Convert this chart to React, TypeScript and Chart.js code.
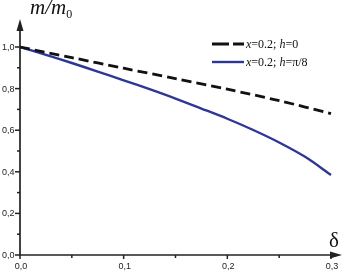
import React, { useEffect, useRef } from "react";
import { Chart, registerables } from "chart.js";

Chart.register(...registerables);

const deltaH0 = [0, 0.05, 0.1, 0.15, 0.2, 0.25, 0.3];
const ratioH0 = [1.0, 0.949, 0.898, 0.848, 0.797, 0.742, 0.68];

const deltaHpi8 = [0, 0.025, 0.05, 0.075, 0.1, 0.125, 0.15, 0.175, 0.2, 0.225, 0.25, 0.275, 0.3];
const ratioHpi8 = [1.0, 0.962, 0.923, 0.882, 0.84, 0.797, 0.752, 0.704, 0.655, 0.601, 0.541, 0.472, 0.385];

const xMajorTicks = [0, 0.1, 0.2, 0.3];
const xMinorTicks = [0.05, 0.15, 0.25];
const yMajorTicks = [0, 0.2, 0.4, 0.6, 0.8, 1.0];
const yMinorTicks = [0.1, 0.3, 0.5, 0.7, 0.9];

const fmt = (v: number) => v.toFixed(1).replace(".", ",");

const axesPlugin = {
  id: "customAxes",
  afterDraw(chart: any) {
    const ctx = chart.ctx;
    const xs = chart.scales.x;
    const ys = chart.scales.y;
    const x0 = xs.getPixelForValue(0);
    const y0 = ys.getPixelForValue(0);
    ctx.save();
    ctx.strokeStyle = "#222";
    ctx.fillStyle = "#222";
    ctx.lineWidth = 1.7;
    // y axis
    ctx.beginPath();
    ctx.moveTo(x0, y0);
    ctx.lineTo(x0, 28);
    ctx.stroke();
    ctx.beginPath();
    ctx.moveTo(x0, 19);
    ctx.lineTo(x0 - 3.5, 31);
    ctx.lineTo(x0 + 3.5, 31);
    ctx.closePath();
    ctx.fill();
    // x axis
    ctx.beginPath();
    ctx.moveTo(x0, y0);
    ctx.lineTo(334, y0);
    ctx.stroke();
    ctx.beginPath();
    ctx.moveTo(342, y0);
    ctx.lineTo(330, y0 - 3.5);
    ctx.lineTo(330, y0 + 3.5);
    ctx.closePath();
    ctx.fill();
    // ticks
    ctx.lineWidth = 1.5;
    ctx.font = "9px 'Liberation Sans', Arial, sans-serif";
    ctx.fillStyle = "#222";
    for (const v of yMajorTicks) {
      const p = ys.getPixelForValue(v);
      ctx.beginPath();
      ctx.moveTo(x0 - 5, p);
      ctx.lineTo(x0, p);
      ctx.stroke();
      ctx.textAlign = "right";
      ctx.textBaseline = "middle";
      ctx.fillText(fmt(v), x0 - 5.5, p + 0.5);
    }
    for (const v of yMinorTicks) {
      const p = ys.getPixelForValue(v);
      ctx.beginPath();
      ctx.moveTo(x0 - 3, p);
      ctx.lineTo(x0, p);
      ctx.stroke();
    }
    for (const v of xMajorTicks) {
      const p = xs.getPixelForValue(v);
      ctx.beginPath();
      ctx.moveTo(p, y0);
      ctx.lineTo(p, y0 + 4);
      ctx.stroke();
      ctx.textAlign = "center";
      ctx.textBaseline = "middle";
      ctx.fillText(fmt(v), p + 1, y0 + 11.5);
    }
    for (const v of xMinorTicks) {
      const p = xs.getPixelForValue(v);
      ctx.beginPath();
      ctx.moveTo(p, y0);
      ctx.lineTo(p, y0 + 3);
      ctx.stroke();
    }
    // axis titles
    ctx.fillStyle = "#111";
    ctx.textAlign = "left";
    ctx.textBaseline = "alphabetic";
    ctx.font = "italic 21px 'Liberation Serif', 'Times New Roman', serif";
    ctx.fillText("m/m", 30, 14);
    const w = ctx.measureText("m/m").width;
    ctx.font = "12px 'Liberation Serif', 'Times New Roman', serif";
    ctx.fillText("0", 30 + w, 18);
    ctx.font = "21px 'Liberation Serif', 'Times New Roman', serif";
    ctx.textAlign = "center";
    ctx.fillText("δ", 334, 247);

    // legend
    const items = [
      { ds: chart.data.datasets[0], y: 44, dash: [17, 4], parts: [["x", true], ["=0.2; ", false], ["h", true], ["=0", false]] },
      { ds: chart.data.datasets[1], y: 62, dash: [], parts: [["x", true], ["=0.2; ", false], ["h", true], ["=π/8", false]] },
    ];
    for (const it of items) {
      ctx.strokeStyle = it.ds.borderColor;
      ctx.lineWidth = it.ds.borderWidth;
      ctx.setLineDash(it.dash);
      ctx.beginPath();
      ctx.moveTo(212, it.y);
      ctx.lineTo(244, it.y);
      ctx.stroke();
      ctx.setLineDash([]);
      let tx = 246;
      ctx.fillStyle = "#111";
      ctx.textAlign = "left";
      ctx.textBaseline = "middle";
      for (const [t, it2] of it.parts as [string, boolean][]) {
        ctx.font = (it2 ? "italic " : "") + "12px 'Liberation Serif', 'Times New Roman', serif";
        ctx.fillText(t, tx, it.y + 0.5);
        tx += ctx.measureText(t).width;
      }
    }
    ctx.restore();
  },
};

export default function App() {
  const ref = useRef<HTMLCanvasElement>(null);
  useEffect(() => {
    if (!ref.current) return;
    const chart = new Chart(ref.current, {
      type: "line",
      data: {
        datasets: [
          {
            label: "x=0.2; h=0",
            data: deltaH0.map((d, i) => ({ x: d, y: ratioH0[i] })),
            borderColor: "#111111",
            borderWidth: 2.8,
            borderDash: [10, 5],
            pointRadius: 0,
            tension: 0.3,
            clip: false,
          },
          {
            label: "x=0.2; h=π/8",
            data: deltaHpi8.map((d, i) => ({ x: d, y: ratioHpi8[i] })),
            borderColor: "#2e3795",
            borderWidth: 2.4,
            pointRadius: 0,
            tension: 0.3,
            clip: false,
          },
        ],
      },
      options: {
        animation: false,
        responsive: false,
        layout: { padding: { left: 20, right: 12, top: 47, bottom: 17 } },
        plugins: { legend: { display: false }, tooltip: { enabled: false } },
        scales: {
          x: { type: "linear", min: 0, max: 0.3, display: false },
          y: { type: "linear", min: 0, max: 1.0, display: false },
        },
      },
      plugins: [axesPlugin],
    } as any);
    return () => chart.destroy();
  }, []);
  return (
    <div style={{ position: "absolute", left: 0, top: 0, width: 343, height: 272, background: "#fff" }}>
      <canvas ref={ref} width={343} height={272} style={{ display: "block" }} />
    </div>
  );
}
